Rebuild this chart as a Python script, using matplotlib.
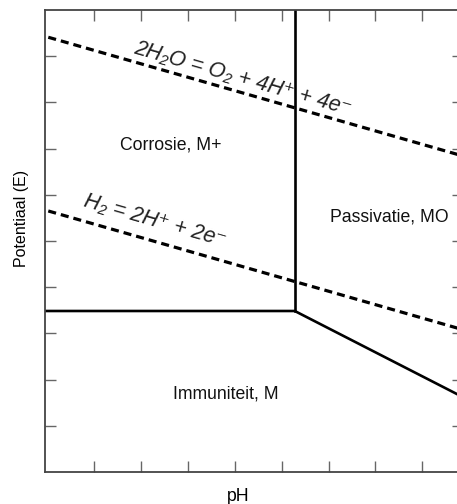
import matplotlib
matplotlib.use("Agg")
import matplotlib.pyplot as plt

plt.rcParams['font.family'] = ['Liberation Sans', 'DejaVu Sans']
plt.rcParams['lines.scale_dashes'] = False

# ---- data (schematic Pourbaix diagram, arbitrary units) ----
x_ticks = [1, 2, 3, 4, 5, 6, 7, 8]
y_ticks = [1, 2, 3, 4, 5, 6, 7, 8, 9]
x_lim = (-0.05, 8.87)
y_lim = (0.0, 10.0)

# water stability lines (dashed)
o2_x = [0.02, 8.87]
o2_y = [9.41, 6.84]
h2_x = [0.02, 8.87]
h2_y = [5.65, 3.08]

# phase boundaries (solid)
vert_x = [5.28, 5.28]
vert_y = [3.485, 10.0]
horiz_x = [-0.05, 5.28]
horiz_y = [3.485, 3.485]
diag_x = [5.28, 8.87]
diag_y = [3.485, 1.62]

region_labels = ["Corrosie, M+", "Passivatie, MO", "Immuniteit, M"]
region_x = [2.64, 7.30, 3.80]
region_y = [7.08, 5.52, 1.69]

eq_labels = ["2H\u2082O = O\u2082 + 4H\u207a + 4e\u207b",
             "H\u2082 = 2H\u207a + 2e\u207b"]
eq_x = [4.16, 2.30]
eq_y = [8.52, 5.44]

fig = plt.figure(figsize=(4.57, 5.04), dpi=100)
ax = fig.add_axes([45 / 457, (504 - 472) / 504, (463 - 45) / 457, (472 - 10) / 504])

dash_kw = dict(color='black', lw=2.3, dashes=(5.8, 3.6), dash_capstyle='butt')
ax.plot(o2_x, o2_y, **dash_kw)
ax.plot(h2_x, h2_y, **dash_kw)

solid_kw = dict(color='black', lw=1.9, solid_joinstyle='miter')
ax.plot(vert_x, vert_y, **solid_kw)
ax.plot(horiz_x + diag_x, horiz_y + diag_y, **solid_kw)

for lab, x, y in zip(region_labels, region_x, region_y):
    ax.text(x, y, lab, ha='center', va='center', fontsize=12.7, color='#111111')

for lab, x, y in zip(eq_labels, eq_x, eq_y):
    ax.text(x, y, lab, ha='center', va='center', fontsize=15.5, color='#222222',
            style='italic', rotation=-16, rotation_mode='anchor')

ax.set_xlim(*x_lim)
ax.set_ylim(*y_lim)
ax.set_xticks(x_ticks)
ax.set_yticks(y_ticks)
ax.tick_params(direction='in', length=8, width=1, color='#666666',
               top=True, right=True, labelbottom=False, labelleft=False)
for s in ax.spines.values():
    s.set_color('#444444')
    s.set_linewidth(1.3)

ax.set_ylabel("Potentiaal (E)", fontsize=11.5)
ax.yaxis.set_label_coords((29 - 45) / 418, (472 - 218) / 462)
ax.set_xlabel("pH", fontsize=12.7)
ax.xaxis.set_label_coords((238 - 45) / 418, -(16 / 462))

fig.savefig("out.png", dpi=100)
